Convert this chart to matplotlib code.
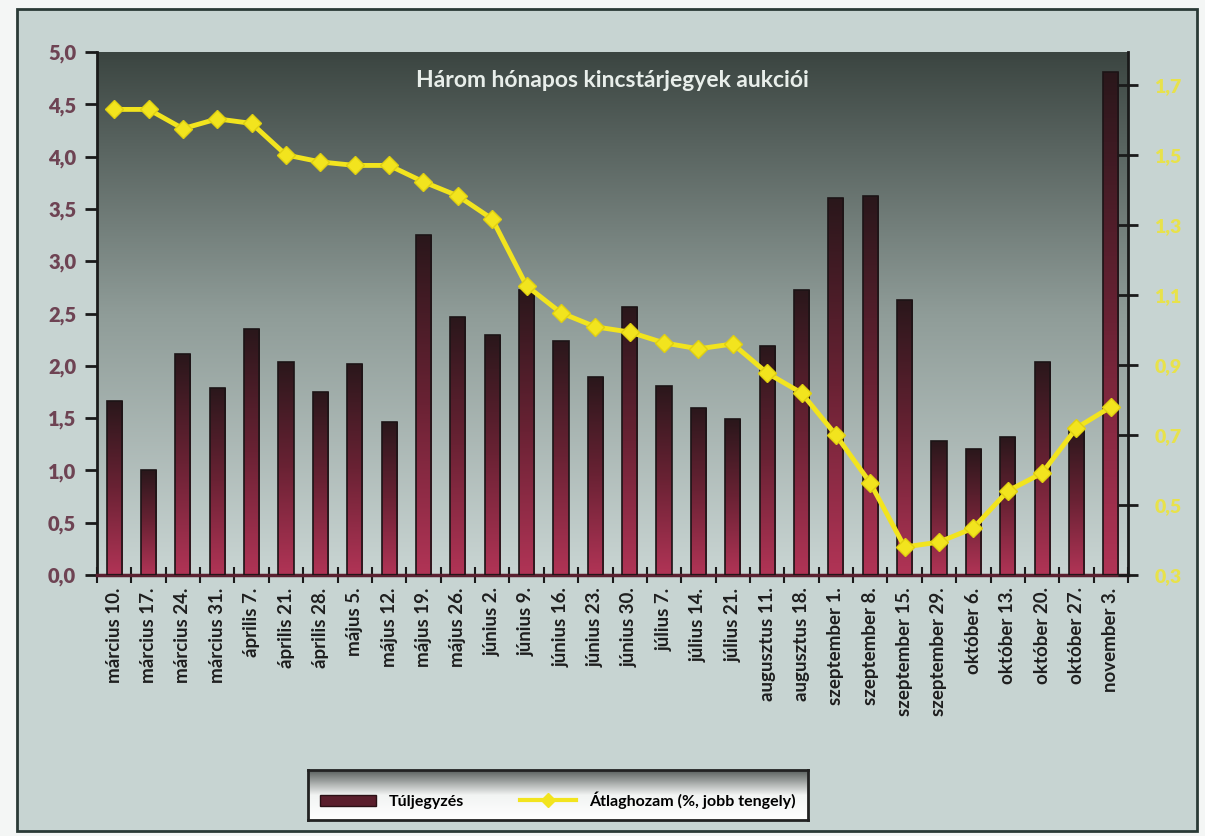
import numpy as np
import matplotlib
matplotlib.use('Agg')
import matplotlib.pyplot as plt
from matplotlib.colors import LinearSegmentedColormap
from matplotlib.patches import Rectangle
from matplotlib.lines import Line2D
from matplotlib.ticker import FuncFormatter

plt.rcParams['font.family'] = ['Lato', 'DejaVu Sans']

dates = ['március 10.', 'március 17.', 'március 24.', 'március 31.', 'április 7.',
         'április 21.', 'április 28.', 'május 5.', 'május 12.', 'május 19.',
         'május 26.', 'június 2.', 'június 9.', 'június 16.', 'június 23.',
         'június 30.', 'július 7.', 'július 14.', 'július 21.', 'augusztus 11.',
         'augusztus 18.', 'szeptember 1.', 'szeptember 8.', 'szeptember 15.',
         'szeptember 29.', 'október 6.', 'október 13.', 'október 20.',
         'október 27.', 'november 3.']
tuljegyzes = [1.66, 1.00, 2.11, 1.79, 2.35, 2.04, 1.75, 2.02, 1.46, 3.25,
              2.47, 2.29, 2.72, 2.24, 1.89, 2.56, 1.81, 1.60, 1.49, 2.19,
              2.72, 3.60, 3.62, 2.63, 1.28, 1.20, 1.32, 2.04, 1.41, 4.81]
atlaghozam = [1.63, 1.63, 1.575, 1.603, 1.59, 1.50, 1.48, 1.47, 1.47, 1.423,
              1.383, 1.317, 1.126, 1.049, 1.009, 0.994, 0.963, 0.946, 0.96, 0.877,
              0.82, 0.70, 0.563, 0.38, 0.394, 0.434, 0.54, 0.591, 0.72, 0.78]

title = 'Három hónapos kincstárjegyek aukciói'

W, H = 1205, 836
fig = plt.figure(figsize=(W / 100, H / 100), dpi=100)
fig.patch.set_facecolor('#f4f6f5')

# outer chart area with border
bg = fig.add_axes([0, 0, 1, 1], zorder=-10)
bg.set_xlim(0, W)
bg.set_ylim(H, 0)
bg.axis('off')
bg.add_patch(Rectangle((17, 9), 1180, 822, facecolor='#c7d4d2', edgecolor='#2a3a36', lw=2))

ax = fig.add_axes([97 / W, (H - 575) / H, (1128 - 97) / W, (575 - 52) / H])
x = np.arange(len(dates))

# plot-area gradient background
grad_bg = LinearSegmentedColormap.from_list('bg', ['#c9d5d3', '#8f9c98', '#3b4541'])
ax.imshow(np.linspace(0, 1, 256).reshape(-1, 1), extent=[0, 1, 0, 1], origin='lower',
          transform=ax.transAxes, cmap=grad_bg, aspect='auto', zorder=0)

bars = ax.bar(x, tuljegyzes, width=0.44, color='none', edgecolor='#1c1416', lw=1.2, zorder=3)
grad_bar = LinearSegmentedColormap.from_list('bar', ['#b13456', '#6a2234', '#2a171b'])
for b in bars:
    im = ax.imshow(np.linspace(0, 1, 128).reshape(-1, 1), cmap=grad_bar, origin='lower',
                   extent=[b.get_x(), b.get_x() + b.get_width(), 0, b.get_height()],
                   aspect='auto', zorder=2)
    im.set_clip_path(b)

ax.set_xlim(-0.5, len(dates) - 0.5)
ax.set_ylim(0, 5)
ax.set_yticks(np.arange(0, 5.01, 0.5))
ax.yaxis.set_major_formatter(FuncFormatter(lambda v, p: f'{v:.1f}'.replace('.', ',')))
ax.tick_params(axis='y', colors='#1a1a1a', labelcolor='#6e4353', labelsize=14.5,
               length=9, width=2, direction='out', pad=6)
for t in ax.get_yticklabels():
    t.set_fontweight('heavy')
ax.set_xticks(x)
ax.set_xticklabels(dates, rotation=90, fontsize=13.5, fontweight='bold', color='#1e1e1e')
ax.set_xticks(np.arange(-0.5, len(dates), 1), minor=True)
ax.tick_params(axis='x', which='major', length=0, pad=9)
ax.tick_params(axis='x', which='minor', length=12, width=1.5, direction='inout', color='#1a1a1a')
for s in ['top', 'right']:
    ax.spines[s].set_visible(False)
ax.spines['left'].set_color('#1a1a1a')
ax.spines['left'].set_linewidth(2)
ax.spines['bottom'].set_color('#5a2030')
ax.spines['bottom'].set_linewidth(2.5)

ax.text(0.5, 0.945, title, transform=ax.transAxes, ha='center', va='center',
        fontsize=16.5, fontweight='bold', color='#e8eeea', zorder=6)

ax2 = ax.twinx()
ax2.plot(x, atlaghozam, color='#f2e41e', lw=3.5, marker='D', markersize=9.5,
         markerfacecolor='#f2e41e', markeredgecolor='#e0d010', zorder=5)
ax2.set_ylim(0.3, 1.794)
ax2.set_yticks(np.arange(0.3, 1.71, 0.2))
ax2.yaxis.set_major_formatter(FuncFormatter(lambda v, p: f'{v:.1f}'.replace('.', ',')))
ax2.tick_params(axis='y', colors='#1a1a1a', labelcolor='#e8e24a', labelsize=14,
                length=14, width=2, direction='inout', pad=12)
for t in ax2.get_yticklabels():
    t.set_fontweight('heavy')
for s in ['top', 'left', 'bottom']:
    ax2.spines[s].set_visible(False)
ax2.spines['right'].set_color('#1a1a1a')
ax2.spines['right'].set_linewidth(2)

# legend box with gradient
lax = fig.add_axes([308 / W, (H - 820) / H, 500 / W, 50 / H])
grad_leg = LinearSegmentedColormap.from_list('leg', ['#ffffff', '#f2f4f3', '#5a605e'])
lax.imshow(np.linspace(0, 1, 64).reshape(-1, 1), extent=[0, 1, 0, 1], origin='lower',
           cmap=grad_leg, aspect='auto', transform=lax.transAxes)
lax.set_xticks([])
lax.set_yticks([])
for s in lax.spines.values():
    s.set_color('#222222')
    s.set_linewidth(2)
handles = [Rectangle((0, 0), 1, 1, facecolor='#5a1e2c', edgecolor='#2a1015'),
           Line2D([], [], color='#f2e41e', lw=3, marker='D', markersize=7)]
lax.legend(handles, ['Túljegyzés', 'Átlaghozam (%, jobb tengely)'], loc='center', ncol=2,
           frameon=False, prop={'weight': 'bold', 'size': 11.5}, handlelength=3.5,
           columnspacing=3.5, bbox_to_anchor=(0.5, 0.4))

fig.savefig('out.png', dpi=100, facecolor=fig.get_facecolor())
